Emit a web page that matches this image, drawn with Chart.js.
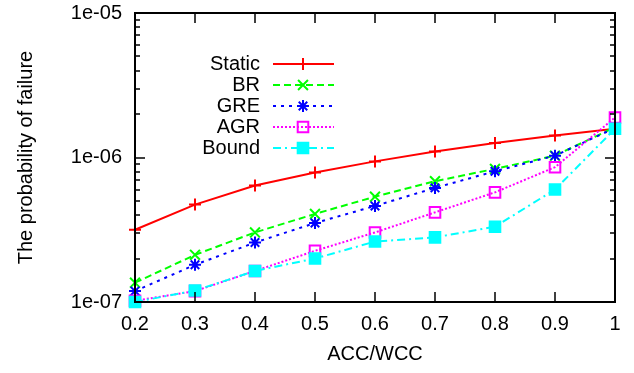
<!DOCTYPE html>
<html>
<head>
<meta charset="utf-8">
<script src="https://cdn.jsdelivr.net/npm/chart.js@4/dist/chart.umd.min.js"></script>
<style>
html,body{margin:0;padding:0;background:#fff;}
canvas{display:block;}
</style>
</head>
<body>
<canvas id="c" width="634" height="373"></canvas>
<script>
const xValues = [0.2, 0.3, 0.4, 0.5, 0.6, 0.7, 0.8, 0.9, 1.0];
const xTickLabels = ['0.2', '0.3', '0.4', '0.5', '0.6', '0.7', '0.8', '0.9', '1'];
const yTickValues = [1e-7, 1e-6, 1e-5];
const yTickLabels = ['1e-07', '1e-06', '1e-05'];
const seriesNames = ['Static', 'BR', 'GRE', 'AGR', 'Bound'];
const staticVals = [3.16e-7, 4.72e-7, 6.4e-7, 7.87e-7, 9.4e-7, 1.1e-6, 1.26e-6, 1.42e-6, 1.58e-6];
const brVals     = [1.36e-7, 2.12e-7, 3.03e-7, 4.07e-7, 5.36e-7, 6.85e-7, 8.34e-7, 1.03e-6, 1.62e-6];
const greVals    = [1.19e-7, 1.81e-7, 2.58e-7, 3.52e-7, 4.62e-7, 6.16e-7, 8.03e-7, 1.03e-6, 1.6e-6];
const agrVals    = [1.02e-7, 1.19e-7, 1.64e-7, 2.26e-7, 3.03e-7, 4.17e-7, 5.74e-7, 8.57e-7, 1.89e-6];
const boundVals  = [1.0e-7, 1.2e-7, 1.64e-7, 2.0e-7, 2.62e-7, 2.8e-7, 3.32e-7, 6.0e-7, 1.58e-6];
const xTitle = 'ACC/WCC';
const yTitle = 'The probability of failure';

const FONT = {family: '"Liberation Sans", Arial, Helvetica, sans-serif', size: 20};

function pts(vals){ return xValues.map((x,i)=>({x:x, y:vals[i]})); }

const styles = [
  {color:'#ff0000', dash:[], point:'cross', radius:6, fill:'#ff0000'},
  {color:'#00ff00', dash:[7,4], point:'crossRot', radius:7, fill:'#00ff00'},
  {color:'#0000ff', dash:[3,5], point:'star', radius:6, fill:'#0000ff'},
  {color:'#ff00ff', dash:[2,2], point:'rect', radius:7.5, fill:'rgba(0,0,0,0)'},
  {color:'#00ffff', dash:[8,4,2,4], point:'rect', radius:7.5, fill:'#00ffff'}
];
const allVals = [staticVals, brVals, greVals, agrVals, boundVals];

const datasets = allVals.map((v,i)=>({
  label: seriesNames[i],
  data: pts(v),
  borderColor: styles[i].color,
  backgroundColor: styles[i].fill,
  borderWidth: 2,
  borderDash: styles[i].dash,
  pointStyle: styles[i].point,
  pointRadius: styles[i].radius,
  pointBorderWidth: 2,
  pointBorderColor: styles[i].color,
  pointBackgroundColor: styles[i].fill,
  tension: 0,
  fill: false,
  clip: false,
  order: 5 - i
}));

const framePlugin = {
  id: 'frame',
  afterDatasetsDraw(chart){
    const ctx = chart.ctx, a = chart.chartArea;
    const xs = chart.scales.x, ys = chart.scales.y;
    ctx.save();
    ctx.strokeStyle = '#000';
    ctx.setLineDash([]);
    ctx.lineWidth = 1.5;
    ctx.beginPath();
    xValues.forEach(v=>{
      const px = Math.round(xs.getPixelForValue(v));
      ctx.moveTo(px, a.bottom); ctx.lineTo(px, a.bottom - 10);
      ctx.moveTo(px, a.top); ctx.lineTo(px, a.top + 10);
    });
    yTickValues.forEach(v=>{
      const py = Math.round(ys.getPixelForValue(v));
      ctx.moveTo(a.left, py); ctx.lineTo(a.left + 10, py);
      ctx.moveTo(a.right, py); ctx.lineTo(a.right - 10, py);
    });
    for (let d = 0; d < yTickValues.length - 1; d++) {
      for (let k = 2; k <= 9; k++) {
        const py = Math.round(ys.getPixelForValue(yTickValues[d] * k));
        ctx.moveTo(a.left, py); ctx.lineTo(a.left + 5, py);
        ctx.moveTo(a.right, py); ctx.lineTo(a.right - 5, py);
      }
    }
    ctx.stroke();
    ctx.lineWidth = 2;
    ctx.strokeRect(a.left, a.top, a.right - a.left, a.bottom - a.top);
    ctx.restore();
  },
  afterDraw(chart){
    const ctx = chart.ctx;
    ctx.save();
    ctx.font = FONT.size + 'px ' + FONT.family;
    ctx.textAlign = 'right';
    ctx.textBaseline = 'middle';
    chart.data.datasets.forEach((ds,i)=>{
      const y = 64 + i * 21;
      ctx.fillStyle = '#000';
      ctx.fillText(ds.label, 260, y);
      ctx.strokeStyle = ds.borderColor;
      ctx.lineWidth = 2;
      ctx.setLineDash(ds.borderDash);
      ctx.beginPath();
      ctx.moveTo(273, y); ctx.lineTo(334, y);
      ctx.stroke();
      ctx.setLineDash([]);
      ctx.fillStyle = ds.pointBackgroundColor;
      ctx.strokeStyle = ds.pointBorderColor;
      ctx.lineWidth = 2;
      Chart.helpers.drawPoint(ctx, {pointStyle: ds.pointStyle, radius: ds.pointRadius, rotation: 0, borderWidth: 2}, 303, y);
    });
    ctx.restore();
  }
};

new Chart(document.getElementById('c'), {
  type: 'line',
  data: { datasets },
  options: {
    responsive: false,
    animation: false,
    devicePixelRatio: 1,
    layout: { padding: {top: 13, right: 19, left: 0, bottom: 0} },
    plugins: { legend: {display: false}, tooltip: {enabled: false} },
    scales: {
      x: {
        type: 'linear', min: 0.2, max: 1,
        afterFit(s){ s.height = 71; s.paddingLeft = 0; s.paddingRight = 0; },
        afterBuildTicks(s){ s.ticks = xValues.map(v=>({value: v})); },
        ticks: { callback: (v,i)=>xTickLabels[i], padding: 10, maxRotation: 0, autoSkip: false, color: '#000', font: FONT },
        grid: { display: false, drawTicks: false },
        border: { display: false },
        title: { display: true, text: xTitle, color: '#000', font: FONT, padding: {top: 0, bottom: 7} }
      },
      y: {
        type: 'logarithmic', min: 1e-7, max: 1e-5,
        afterFit(s){ s.width = 135; s.paddingTop = 0; s.paddingBottom = 0; },
        afterBuildTicks(s){ s.ticks = yTickValues.map(v=>({value: v, major: true})); },
        ticks: { callback: (v,i)=>yTickLabels[i], padding: 13, autoSkip: false, color: '#000', font: FONT },
        grid: { display: false, drawTicks: false },
        border: { display: false },
        title: { display: true, text: yTitle, color: '#000', font: FONT, padding: {top: 14, bottom: 0} }
      }
    }
  },
  plugins: [framePlugin]
});
</script>
</body>
</html>
